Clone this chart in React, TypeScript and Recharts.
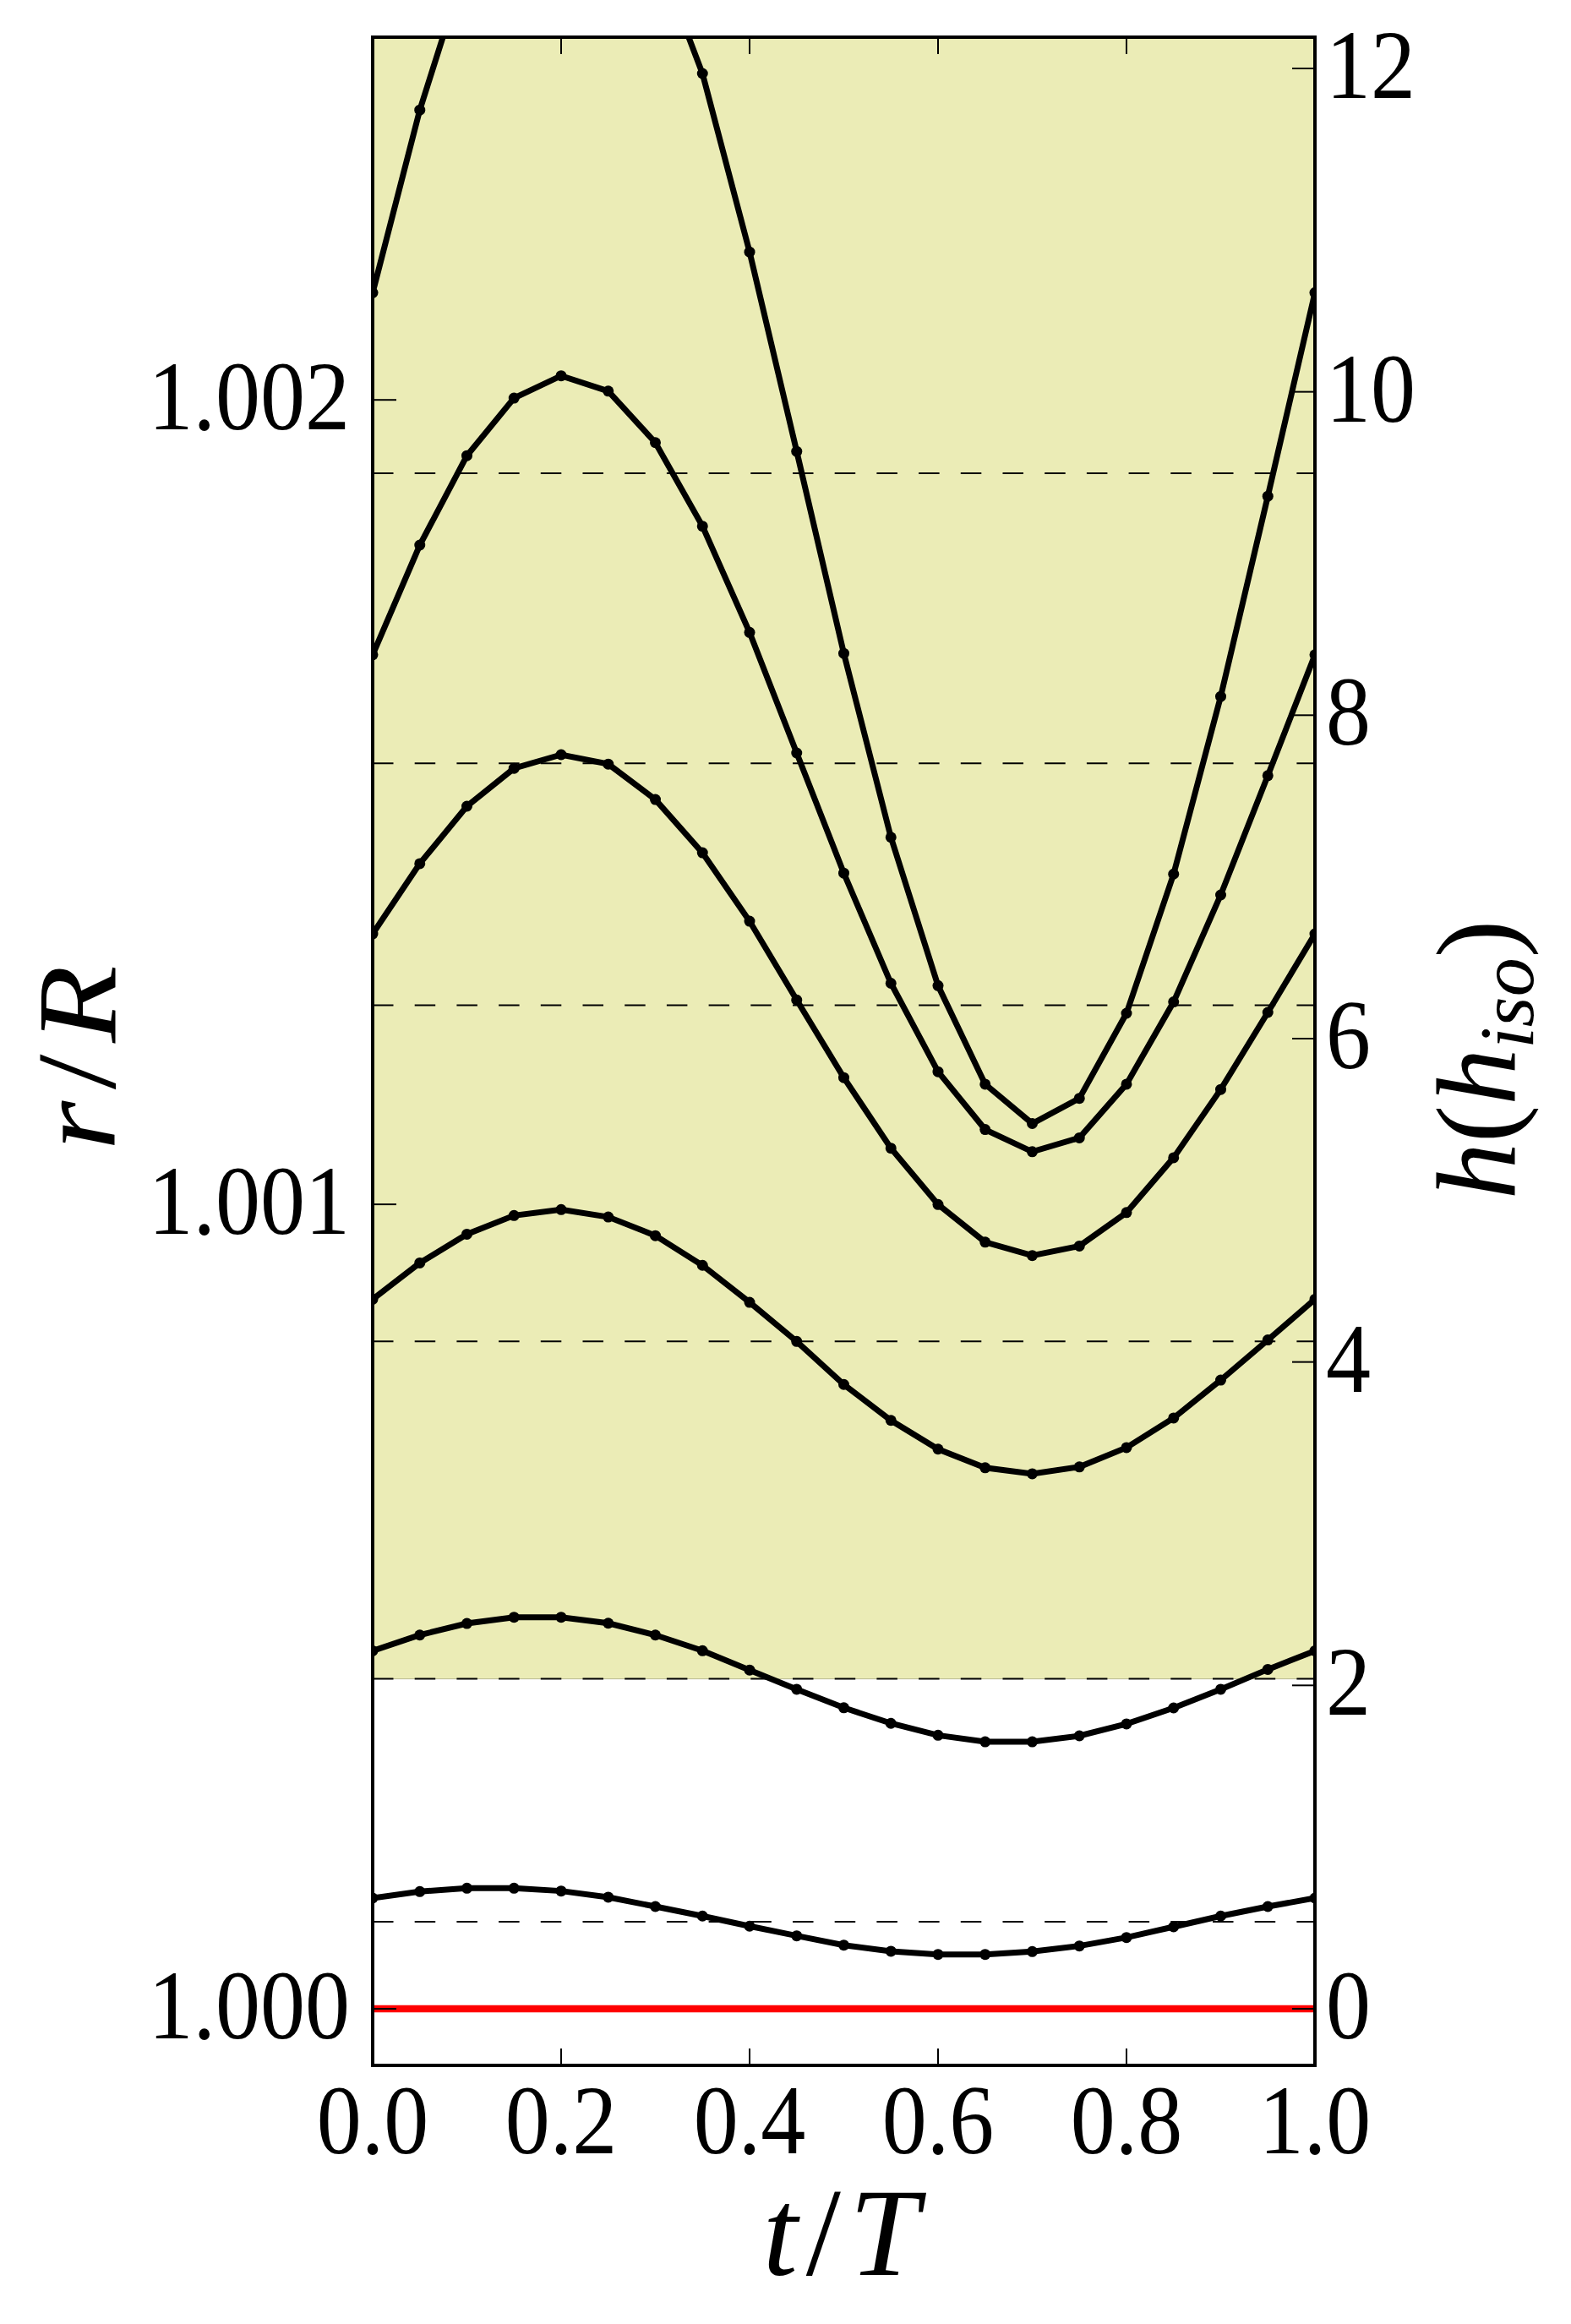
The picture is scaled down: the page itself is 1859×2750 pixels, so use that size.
import React from 'react';
import { ComposedChart, Line, XAxis, YAxis, ReferenceLine, ReferenceArea } from 'recharts';

// t/T sample points (21 per period)
const tValues = [0, 0.05, 0.1, 0.15, 0.2, 0.25, 0.3, 0.35, 0.4, 0.45, 0.5, 0.55, 0.6, 0.65, 0.7, 0.75, 0.8, 0.85, 0.9, 0.95, 1.0];

// r/R for each orbit (bottom to top)
const radius1 = [1.0001376, 1.0001457, 1.0001499, 1.0001499, 1.0001464, 1.0001387, 1.0001271, 1.0001153, 1.0001027, 1.0000907, 1.0000791, 1.0000715, 1.0000676, 1.0000676, 1.0000711, 1.0000781, 1.0000886, 1.0001019, 1.0001153, 1.0001271, 1.0001376];
const radius2 = [1.000445, 1.0004646, 1.000479, 1.0004867, 1.0004867, 1.0004793, 1.0004646, 1.0004451, 1.0004211, 1.0003972, 1.0003742, 1.0003548, 1.00034, 1.0003319, 1.0003319, 1.0003393, 1.0003541, 1.000374, 1.0003972, 1.0004219, 1.000445];
const radius3 = [1.000882, 1.0009272, 1.0009629, 1.0009861, 1.0009935, 1.0009843, 1.0009611, 1.0009242, 1.0008782, 1.0008296, 1.0007761, 1.0007314, 1.0006957, 1.0006725, 1.0006651, 1.0006736, 1.0006976, 1.0007344, 1.0007815, 1.0008314, 1.000882];
const radius4 = [1.0013362, 1.0014236, 1.0014949, 1.001542, 1.001559, 1.0015473, 1.0015032, 1.001437, 1.001352, 1.0012541, 1.0011575, 1.0010698, 1.0009998, 1.000953, 1.0009364, 1.0009482, 1.0009898, 1.001058, 1.0011428, 1.0012386, 1.0013362];
const radius5 = [1.0016831, 1.0018195, 1.0019307, 1.0020022, 1.00203, 1.0020109, 1.0019469, 1.001843, 1.001711, 1.0015611, 1.0014117, 1.0012748, 1.0011649, 1.001093, 1.0010654, 1.0010827, 1.0011494, 1.0012516, 1.0013846, 1.0015329, 1.0016831];
// top orbit leaves the frame between t=0.075 and t=0.335 (values there estimated)
const radius6 = [1.0021333, 1.0023604, 1.002545, 1.00265, 1.00269, 1.00266, 1.00256, 1.0024057, 1.0021839, 1.001936, 1.0016849, 1.0014563, 1.0012718, 1.0011494, 1.0011004, 1.0011318, 1.0012375, 1.0014106, 1.0016313, 1.0018803, 1.0021333];

const surfaceLevel = 1.0;
const dashedLevels = [1.0019089, 1.0015481, 1.0012475, 1.0008296, 1.0004101, 1.0001082];
const shadedFrom = 1.0004101;

const tTicks = [0, 0.2, 0.4, 0.6, 0.8, 1.0];
const rTicks = [1.0, 1.001, 1.002];
const hTicks = [0, 2, 4, 6, 8, 10, 12];

const rDomain: [number, number] = [0.9999296, 1.0024509];
const hPerMilli = 4.975; // h units per 0.001 in r/R
const hDomain: [number, number] = [(rDomain[0] - 1) * 1000 * hPerMilli, (rDomain[1] - 1) * 1000 * hPerMilli];

const rows = tValues.map((t, i) => ({
  t,
  r1: radius1[i],
  r2: radius2[i],
  r3: radius3[i],
  r4: radius4[i],
  r5: radius5[i],
  r6: radius6[i],
}));

const W = 1859;
const H = 2750;
const SERIF = '"Liberation Serif", "DejaVu Serif", serif';
const series = ['r1', 'r2', 'r3', 'r4', 'r5', 'r6'];

const LeftTick = (props: any) => {
  const { x, y, payload } = props;
  return (
    <g>
      <line x1={x} y1={y} x2={x + 28} y2={y} stroke="#000" strokeWidth={2} />
      <text transform={`translate(${x - 27},${y + 35}) scale(1,1.09)`} textAnchor="end" fontFamily={SERIF} fontSize={106} fill="#000">
        {Number(payload.value).toFixed(3)}
      </text>
    </g>
  );
};

const RightTick = (props: any) => {
  const { x, y, payload } = props;
  return (
    <g>
      <line x1={x} y1={y} x2={x - 27} y2={y} stroke="#000" strokeWidth={2} />
      <text transform={`translate(${x + 13},${y + 35}) scale(1,1.09)`} textAnchor="start" fontFamily={SERIF} fontSize={106} fill="#000">
        {String(payload.value)}
      </text>
    </g>
  );
};

const BottomTick = (props: any) => {
  const { x, y, payload } = props;
  return (
    <g>
      <line x1={x} y1={y} x2={x} y2={y - 20} stroke="#000" strokeWidth={2} />
      <text transform={`translate(${x},${y + 104}) scale(1,1.09)`} textAnchor="middle" fontFamily={SERIF} fontSize={106} fill="#000">
        {Number(payload.value).toFixed(1)}
      </text>
    </g>
  );
};

const TopTick = (props: any) => {
  const { x, y } = props;
  return <line x1={x} y1={y} x2={x} y2={y + 20} stroke="#000" strokeWidth={2} />;
};

const spine = { stroke: '#000', strokeWidth: 4, strokeLinecap: 'square' as const };

export default function App() {
  return (
    <div style={{ position: 'relative', width: W, height: H, background: '#fff' }}>
      <style>{'body{margin:0;background:#fff}'}</style>
      <ComposedChart width={W} height={H} data={rows} margin={{ top: 43, right: 302, bottom: 305, left: 440 }}>
        <ReferenceArea y1={shadedFrom} y2={rDomain[1]} fill="#ebecb6" fillOpacity={1} stroke="#b8b98e" strokeWidth={1} ifOverflow="hidden" />
        {dashedLevels.map((lv) => (
          <ReferenceLine key={lv} y={lv} stroke="#000" strokeWidth={2} strokeDasharray="24.5 25.2" />
        ))}
        <ReferenceLine y={surfaceLevel} stroke="#ff0000" strokeWidth={8.5} />
        {series.map((k) => (
          <Line
            key={k}
            dataKey={k}
            type="linear"
            stroke="#000"
            strokeWidth={7}
            dot={{ r: 6.5, fill: '#000', stroke: '#000', strokeWidth: 0 }}
            activeDot={false}
            isAnimationActive={false}
          />
        ))}
        <XAxis dataKey="t" type="number" domain={[0, 1]} ticks={tTicks} allowDataOverflow height={1} tickSize={0} tickMargin={0} tickLine={false} axisLine={spine} tick={BottomTick} interval={0} />
        <XAxis xAxisId="top" orientation="top" dataKey="t" type="number" domain={[0, 1]} ticks={tTicks} allowDataOverflow height={1} tickSize={0} tickMargin={0} tickLine={false} axisLine={spine} tick={TopTick} interval={0} />
        <YAxis type="number" domain={rDomain} ticks={rTicks} allowDataOverflow width={1} tickSize={0} tickMargin={0} tickLine={false} axisLine={spine} tick={LeftTick} interval={0} />
        <YAxis yAxisId="h" orientation="right" type="number" domain={hDomain} ticks={hTicks} allowDataOverflow width={1} tickSize={0} tickMargin={0} tickLine={false} axisLine={spine} tick={RightTick} interval={0} />
      </ComposedChart>
      <svg width={W} height={H} style={{ position: 'absolute', left: 0, top: 0, pointerEvents: 'none' }}>
        <text x={1000} y={2692} textAnchor="middle" fontFamily={SERIF} fontSize={148} fill="#000" letterSpacing={10}>
          <tspan fontStyle="italic">t</tspan>
          <tspan>/</tspan>
          <tspan fontStyle="italic">T</tspan>
        </text>
        <text transform="translate(136,1245) rotate(-90) scale(1.12,1)" textAnchor="middle" fontFamily={SERIF} fontSize={134} fill="#000" letterSpacing={12}>
          <tspan fontStyle="italic">r</tspan>
          <tspan>/</tspan>
          <tspan fontStyle="italic">R</tspan>
        </text>
        <text transform="translate(1792,1254) rotate(-90)" textAnchor="middle" fontFamily={SERIF} fontSize={134} fill="#000">
          <tspan fontStyle="italic">h</tspan>
          <tspan>(</tspan>
          <tspan fontStyle="italic">h</tspan>
          <tspan fontStyle="italic" fontSize={92} dy={22}>iso</tspan>
          <tspan dy={-22}>)</tspan>
        </text>
      </svg>
    </div>
  );
}
